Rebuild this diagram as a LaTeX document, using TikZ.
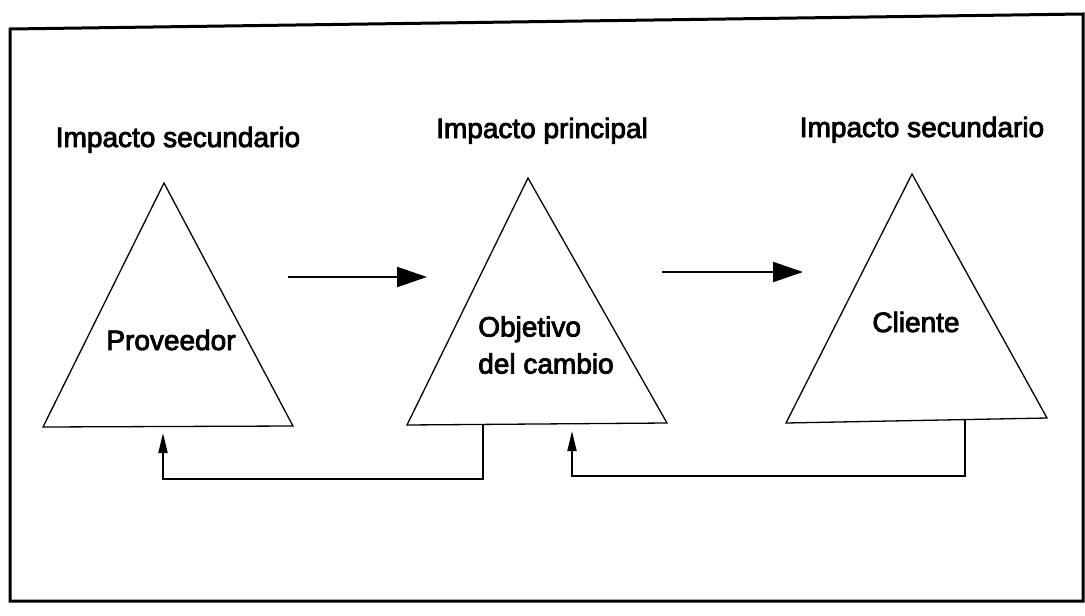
\documentclass[tikz,border=0pt]{standalone}
\usepackage{fontspec}
\setmainfont{Liberation Sans}
\newfontfamily\scanfont{Liberation Sans}[FakeBold=3]
\usetikzlibrary{arrows.meta}

\tikzset{
  tri/.style={draw, line width=1.3pt, line join=miter},
  hdr/.style={font=\scanfont\fontsize{28}{30}\selectfont, inner sep=0pt, anchor=base},
  lbl/.style={font=\scanfont\fontsize{28}{37}\selectfont, inner sep=0pt, align=left},
  flow/.style={line width=2pt, -{Triangle[length=30pt, width=20pt]}},
  back/.style={line width=1.8pt, -{Triangle[length=20pt, width=9pt]}},
}

\begin{document}
\begin{tikzpicture}[x=1pt, y=-1pt]

    \useasboundingbox (0,0) rectangle (1085,616);

    % frame
    \draw[line width=3pt, line join=miter] (10,29) -- (1083,14) -- (1083,601) -- (10,601) -- cycle;

    % corners of the three triangles
    \coordinate (provTop) at (164,183);
    \coordinate (provL)   at (43,427);
    \coordinate (provR)   at (293,426);
    \coordinate (objTop)  at (528,178);
    \coordinate (objL)    at (407,425);
    \coordinate (objR)    at (667,423);
    \coordinate (cliTop)  at (912,174);
    \coordinate (cliL)    at (786,423);
    \coordinate (cliR)    at (1047,418);

    \draw[tri] (provL) -- (provTop) -- (provR) -- cycle;
    \draw[tri] (objL) -- (objTop) -- (objR) -- cycle;
    \draw[tri] (cliL) -- (cliTop) -- (cliR) -- cycle;

    % headings
    \node[hdr] (provHead) at (178,147) {Impacto secundario};
    \node[hdr] (objHead)  at (542,138) {Impacto principal};
    \node[hdr] (cliHead)  at (922,137) {Impacto secundario};

    % texts inside
    \node[lbl] (prov) at (171,340) {Proveedor};
    \node[lbl] (obj)  at (546,345) {Objetivo\\del cambio};
    \node[lbl] (cli)  at (916,322) {Cliente};

    % forward arrows
    \coordinate (flowAs) at (288,277);
    \coordinate (flowAe) at (427,277);
    \coordinate (flowBs) at (662,272);
    \coordinate (flowBe) at (803,272);
    \draw[flow] (flowAs) -- (flowAe);
    \draw[flow] (flowBs) -- (flowBe);

    % feedback
    \coordinate (objOut)  at (483,424);
    \coordinate (provIn)  at (163,433);
    \coordinate (cliOut)  at (965,420);
    \coordinate (objIn)   at (572,431);
    \draw[back] (objOut) -- ++(0,55) -| (provIn);
    \draw[back] (cliOut) -- ++(0,56) -| (objIn);

\end{tikzpicture}
\end{document}
